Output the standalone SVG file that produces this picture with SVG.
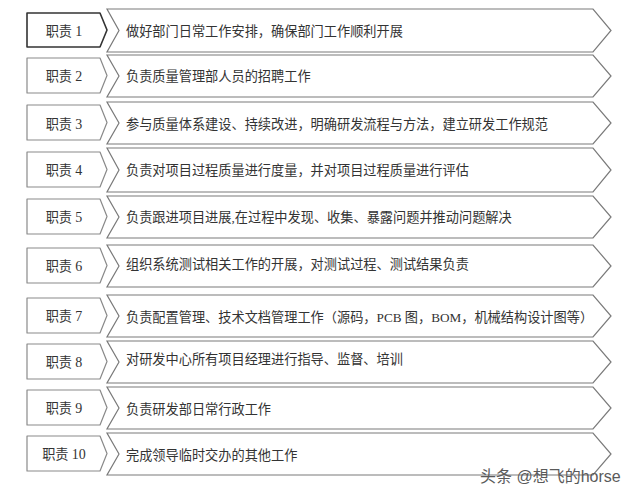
<svg xmlns="http://www.w3.org/2000/svg" width="640" height="500" viewBox="0 0 640 500">
<style>
.box{fill:#fff;stroke:#8a8a8a;stroke-width:1.2;stroke-linejoin:round}
.box1{fill:#fff;stroke:#333;stroke-width:1.6;stroke-linejoin:round}
.chev{fill:#fff;stroke:#7a7a7a;stroke-width:1.2;stroke-linejoin:miter}
.lbl{font-family:"Liberation Serif","Noto Sans CJK SC",serif;font-size:13.2px;fill:#333;text-anchor:middle}
.lbl tspan{font-size:14px}
.txt{font-family:"Liberation Serif","Noto Sans CJK SC",serif;font-size:13.2px;fill:#333}
.wm{font-family:"Liberation Sans","Noto Sans CJK SC",sans-serif;font-size:16px;fill:#5a5a5a}
</style>
<rect width="640" height="500" fill="#fff"/>
<g id="connectors"></g>
<g id="row1">
<path class="chev" d="M107,9 L593,9 L611,30.5 L593,52 L107,52 L119,30.5 Z"/>
<path class="box1" d="M27,13 L100,13 L107,30 L100,47 L27,47 Z"/>
<text class="lbl" x="64" y="36">职责 <tspan>1</tspan></text>
<text class="txt" x="126" y="36">做好部门日常工作安排，确保部门工作顺利开展</text>
</g>
<g id="row2">
<path class="chev" d="M107,55 L593,55 L611,76 L593,97 L107,97 L119,76 Z"/>
<path class="box" d="M27,58 L100,58 L107,75.5 L100,93 L27,93 Z"/>
<text class="lbl" x="64" y="81">职责 <tspan>2</tspan></text>
<text class="txt" x="126" y="81">负责质量管理部人员的招聘工作</text>
</g>
<g id="row3">
<path class="chev" d="M107,102 L593,102 L611,123 L593,144 L107,144 L119,123 Z"/>
<path class="box" d="M27,105 L100,105 L107,122.5 L100,140 L27,140 Z"/>
<text class="lbl" x="64" y="129">职责 <tspan>3</tspan></text>
<text class="txt" x="126" y="129">参与质量体系建设、持续改进，明确研发流程与方法，建立研发工作规范</text>
</g>
<g id="row4">
<path class="chev" d="M107,148 L593,148 L611,170 L593,192 L107,192 L119,170 Z"/>
<path class="box" d="M27,152 L100,152 L107,169.5 L100,187 L27,187 Z"/>
<text class="lbl" x="64" y="175">职责 <tspan>4</tspan></text>
<text class="txt" x="126" y="175">负责对项目过程质量进行度量，并对项目过程质量进行评估</text>
</g>
<g id="row5">
<path class="chev" d="M107,196 L593,196 L611,217 L593,238 L107,238 L119,217 Z"/>
<path class="box" d="M27,199 L100,199 L107,216.5 L100,234 L27,234 Z"/>
<text class="lbl" x="64" y="222">职责 <tspan>5</tspan></text>
<text class="txt" x="126" y="222">负责跟进项目进展,在过程中发现、收集、暴露问题并推动问题解决</text>
</g>
<g id="row6">
<path class="chev" d="M107,245 L593,245 L611,266 L593,287 L107,287 L119,266 Z"/>
<path class="box" d="M27,248 L100,248 L107,265.5 L100,283 L27,283 Z"/>
<text class="lbl" x="64" y="271">职责 <tspan>6</tspan></text>
<text class="txt" x="126" y="269">组织系统测试相关工作的开展，对测试过程、测试结果负责</text>
</g>
<g id="row7">
<path class="chev" d="M107,295 L593,295 L611,316 L593,337 L107,337 L119,316 Z"/>
<path class="box" d="M27,298 L100,298 L107,315.5 L100,333 L27,333 Z"/>
<text class="lbl" x="64" y="321">职责 <tspan>7</tspan></text>
<text class="txt" x="126" y="322">负责配置管理、技术文档管理工作（源码，PCB 图，BOM，机械结构设计图等）</text>
</g>
<g id="row8">
<path class="chev" d="M107,341 L593,341 L611,362 L593,383 L107,383 L119,362 Z"/>
<path class="box" d="M27,344 L100,344 L107,361.5 L100,379 L27,379 Z"/>
<text class="lbl" x="64" y="366.5">职责 <tspan>8</tspan></text>
<text class="txt" x="126" y="363.5">对研发中心所有项目经理进行指导、监督、培训</text>
</g>
<g id="row9">
<path class="chev" d="M107,387 L593,387 L611,408 L593,429 L107,429 L119,408 Z"/>
<path class="box" d="M27,390 L100,390 L107,407.5 L100,425 L27,425 Z"/>
<text class="lbl" x="64" y="413">职责 <tspan>9</tspan></text>
<text class="txt" x="126" y="414">负责研发部日常行政工作</text>
</g>
<g id="row10">
<path class="chev" d="M107,433 L593,433 L611,454 L593,475 L107,475 L119,454 Z"/>
<path class="box" d="M27,436 L100,436 L107,453.5 L100,471 L27,471 Z"/>
<text class="lbl" x="64" y="459">职责 <tspan>10</tspan></text>
<text class="txt" x="126" y="460">完成领导临时交办的其他工作</text>
</g>
<text class="wm" x="480" y="482">头条 @想飞的horse</text>
</svg>
